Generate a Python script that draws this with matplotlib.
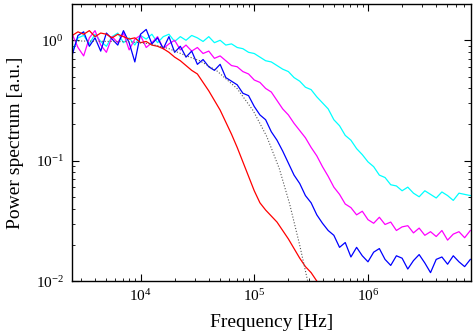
#!/usr/bin/env python3
"""
Spettri di potenza normalizzati (log-log) per quattro misure + curva di fit
"""

import numpy as np
import matplotlib
matplotlib.use('Agg')
import matplotlib.pyplot as plt

# Griglia in frequenza (log10 Hz), passo 0.05 decadi
log_freq = [3.40, 3.45, 3.50, 3.55, 3.60, 3.65, 3.70, 3.75, 3.80, 3.85,
            3.90, 3.95, 4.00, 4.05, 4.10, 4.15, 4.20, 4.25, 4.30, 4.35,
            4.40, 4.45, 4.50, 4.55, 4.60, 4.65, 4.70, 4.75, 4.80, 4.85,
            4.90, 4.95, 5.00, 5.05, 5.10, 5.15, 5.20, 5.25, 5.30, 5.35,
            5.40, 5.45, 5.50, 5.55, 5.60, 5.65, 5.70, 5.75, 5.80, 5.85,
            5.90, 5.95, 6.00, 6.05, 6.10, 6.15, 6.20, 6.25, 6.30, 6.35,
            6.40, 6.45, 6.50, 6.55, 6.60, 6.65, 6.70, 6.75, 6.80, 6.85,
            6.90]

# log10 dello spettro
red_logp = [0.04, 0.07, 0.05, 0.08, 0.03, 0.06, 0.05, 0.02, 0.05, 0.03,
            0.01, 0.02, -0.02, -0.01, -0.04, -0.05, -0.07, -0.10, -0.14, -0.17,
            -0.21, -0.25, -0.28, -0.35, -0.42, -0.50, -0.58, -0.68, -0.78, -0.89,
            -1.01, -1.13, -1.25, -1.35, -1.41, -1.46, -1.51, -1.58, -1.65, -1.73,
            -1.81, -1.88, -1.93, -2.00, -2.06]

blue_logp = [-0.12, 0.04, 0.07, -0.05, 0.02, -0.09, 0.06, 0.01, -0.04, 0.08,
             -0.02, -0.18, 0.05, 0.09, -0.03, 0.02, -0.07, 0.03, -0.10, -0.05,
             -0.14, -0.09, -0.20, -0.16, -0.22, -0.25, -0.20, -0.31, -0.34, -0.37,
             -0.44, -0.46, -0.55, -0.62, -0.66, -0.76, -0.83, -0.92, -1.02, -1.12,
             -1.19, -1.29, -1.35, -1.45, -1.52, -1.58, -1.62, -1.72, -1.68, -1.80,
             -1.72, -1.79, -1.84, -1.76, -1.73, -1.82, -1.87, -1.79, -1.81, -1.90,
             -1.83, -1.78, -1.85, -1.93, -1.82, -1.80, -1.86, -1.79, -1.84, -1.88,
             -1.82]

magenta_logp = [0.05, -0.06, -0.13, 0.02, 0.08, -0.04, -0.10, 0.03, -0.02, 0.06,
                -0.08, 0.01, 0.04, -0.06, -0.02, 0.03, -0.07, -0.03, 0.00, -0.08,
                -0.04, -0.09, -0.06, -0.11, -0.09, -0.15, -0.13, -0.17, -0.21, -0.22,
                -0.26, -0.28, -0.33, -0.35, -0.40, -0.43, -0.50, -0.57, -0.62, -0.69,
                -0.75, -0.81, -0.89, -0.96, -1.05, -1.13, -1.22, -1.28, -1.36, -1.39,
                -1.45, -1.42, -1.49, -1.52, -1.47, -1.53, -1.51, -1.58, -1.55, -1.54,
                -1.60, -1.56, -1.62, -1.59, -1.63, -1.58, -1.66, -1.61, -1.59, -1.64,
                -1.58]

cyan_logp = [-0.09, 0.02, 0.04, -0.03, 0.05, -0.01, -0.05, 0.03, 0.06, -0.02,
             0.02, -0.04, 0.04, 0.01, 0.05, -0.02, 0.03, 0.05, -0.01, 0.03,
             0.00, 0.04, 0.02, -0.01, 0.03, -0.02, 0.00, -0.04, -0.03, -0.06,
             -0.07, -0.10, -0.11, -0.14, -0.17, -0.18, -0.21, -0.24, -0.26, -0.31,
             -0.34, -0.39, -0.41, -0.47, -0.52, -0.57, -0.66, -0.71, -0.79, -0.83,
             -0.90, -0.95, -1.01, -1.05, -1.12, -1.14, -1.20, -1.21, -1.25, -1.22,
             -1.27, -1.30, -1.25, -1.28, -1.31, -1.26, -1.29, -1.33, -1.27, -1.28,
             -1.29]

# Curva di fit (punteggiata)
fit_log_freq = [3.40, 3.90, 4.08, 4.25, 4.40, 4.52, 4.67, 4.85, 4.99, 5.11,
                5.22, 5.31, 5.40, 5.47]
fit_logp = [-0.005, -0.012, -0.029, -0.07, -0.128, -0.17, -0.253, -0.402,
            -0.584, -0.799, -1.065, -1.355, -1.703, -2.001]


def setup_fonts():
    """Font tipo Times anche per gli esponenti delle tacche"""
    plt.rcParams['font.family'] = 'serif'
    plt.rcParams['font.serif'] = ['Liberation Serif', 'DejaVu Serif']
    plt.rcParams['mathtext.fontset'] = 'custom'
    plt.rcParams['mathtext.rm'] = 'Liberation Serif'
    plt.rcParams['mathtext.it'] = 'Liberation Serif:italic'


def main():
    setup_fonts()

    freq = 10 ** np.array(log_freq)

    fig = plt.figure(figsize=(4.74, 3.35), dpi=100)
    ax = fig.add_axes([0.152, 0.161, 0.841, 0.827])

    lw = 0.9
    ax.plot(freq, 10 ** np.array(cyan_logp), color='#00ffff', linewidth=lw)
    ax.plot(freq, 10 ** np.array(magenta_logp), color='#ff00ff', linewidth=lw)
    ax.plot(freq, 10 ** np.array(blue_logp), color='#0000ff', linewidth=lw)
    ax.plot(freq[:len(red_logp)], 10 ** np.array(red_logp), color='#ff0000', linewidth=lw)
    ax.plot(10 ** np.array(fit_log_freq), 10 ** np.array(fit_logp),
            color='#555555', linestyle=':', linewidth=0.8)

    ax.set_xscale('log')
    ax.set_yscale('log')
    ax.set_xlim(2.5e3, 8e6)
    ax.set_ylim(1e-2, 2.0)

    ax.set_xlabel('Frequency [Hz]', fontsize=14, labelpad=7)
    ax.set_ylabel('Power spectrum [a.u.]', fontsize=14, labelpad=8)

    # Tacche verso l'interno su tutti i lati
    ax.tick_params(which='both', direction='in', top=True, right=True,
                   labelsize=11)
    ax.tick_params(which='major', length=5, width=0.8)
    ax.tick_params(which='minor', length=2.5, width=0.6)
    ax.tick_params(axis='x', pad=5)
    ax.tick_params(axis='y', pad=6)
    for sp in ax.spines.values():
        sp.set_linewidth(1.0)

    fig.savefig('out.png', dpi=100)


if __name__ == '__main__':
    main()
